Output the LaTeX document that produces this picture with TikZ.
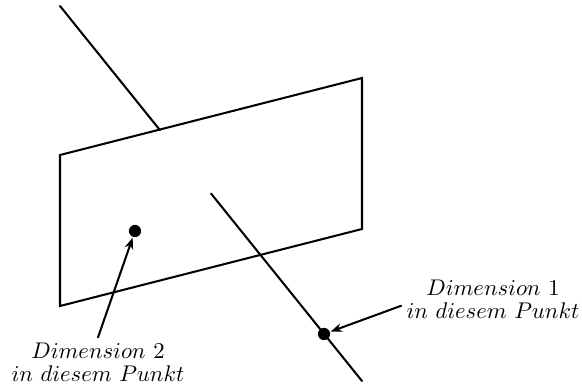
\documentclass[tikz,border=0pt]{standalone}
\usetikzlibrary{calc,arrows.meta}
\begin{document}
\begin{tikzpicture}[line width=0.9pt,line cap=round,line join=miter,>={Stealth[length=5pt,width=3.8pt,inset=1.6pt]},x=0.0155cm,y=-0.0155cm,
	punkt/.style={circle,fill,inner sep=0pt,minimum size=5.4pt},
	hinweis/.style={align=center,inner sep=2pt}]
	\useasboundingbox (0,0) rectangle (582,385);
	% Ebene
	\draw (60,155)--(362,78)--(362,229)--(60,306)--cycle;
	% Gerade durch die Ebene
	\coordinate (oben) at (60,6);
	\coordinate (unten) at (362,381);
	\draw (oben)--($(oben)!0.331!(unten)$);
	\draw ($(oben)!0.5!(unten)$)--(unten);
	% Punkte
	\node[punkt] (p1) at (324,334) {};
	\node[punkt] (p2) at (135,231) {};
	% Beschriftungen
	\node[hinweis] (t1) at (493,299) {$Dimension\ 1$\\[-2pt] $in\ diesem\ Punkt$};
	\node[hinweis] (t2) at (98,362) {$Dimension\ 2$\\[-2pt] $in\ diesem\ Punkt$};
	\draw[->] ([yshift=-3pt]t1.west)--(p1);
	\draw[->] (t2.north)--(p2);
\end{tikzpicture}
\end{document}
